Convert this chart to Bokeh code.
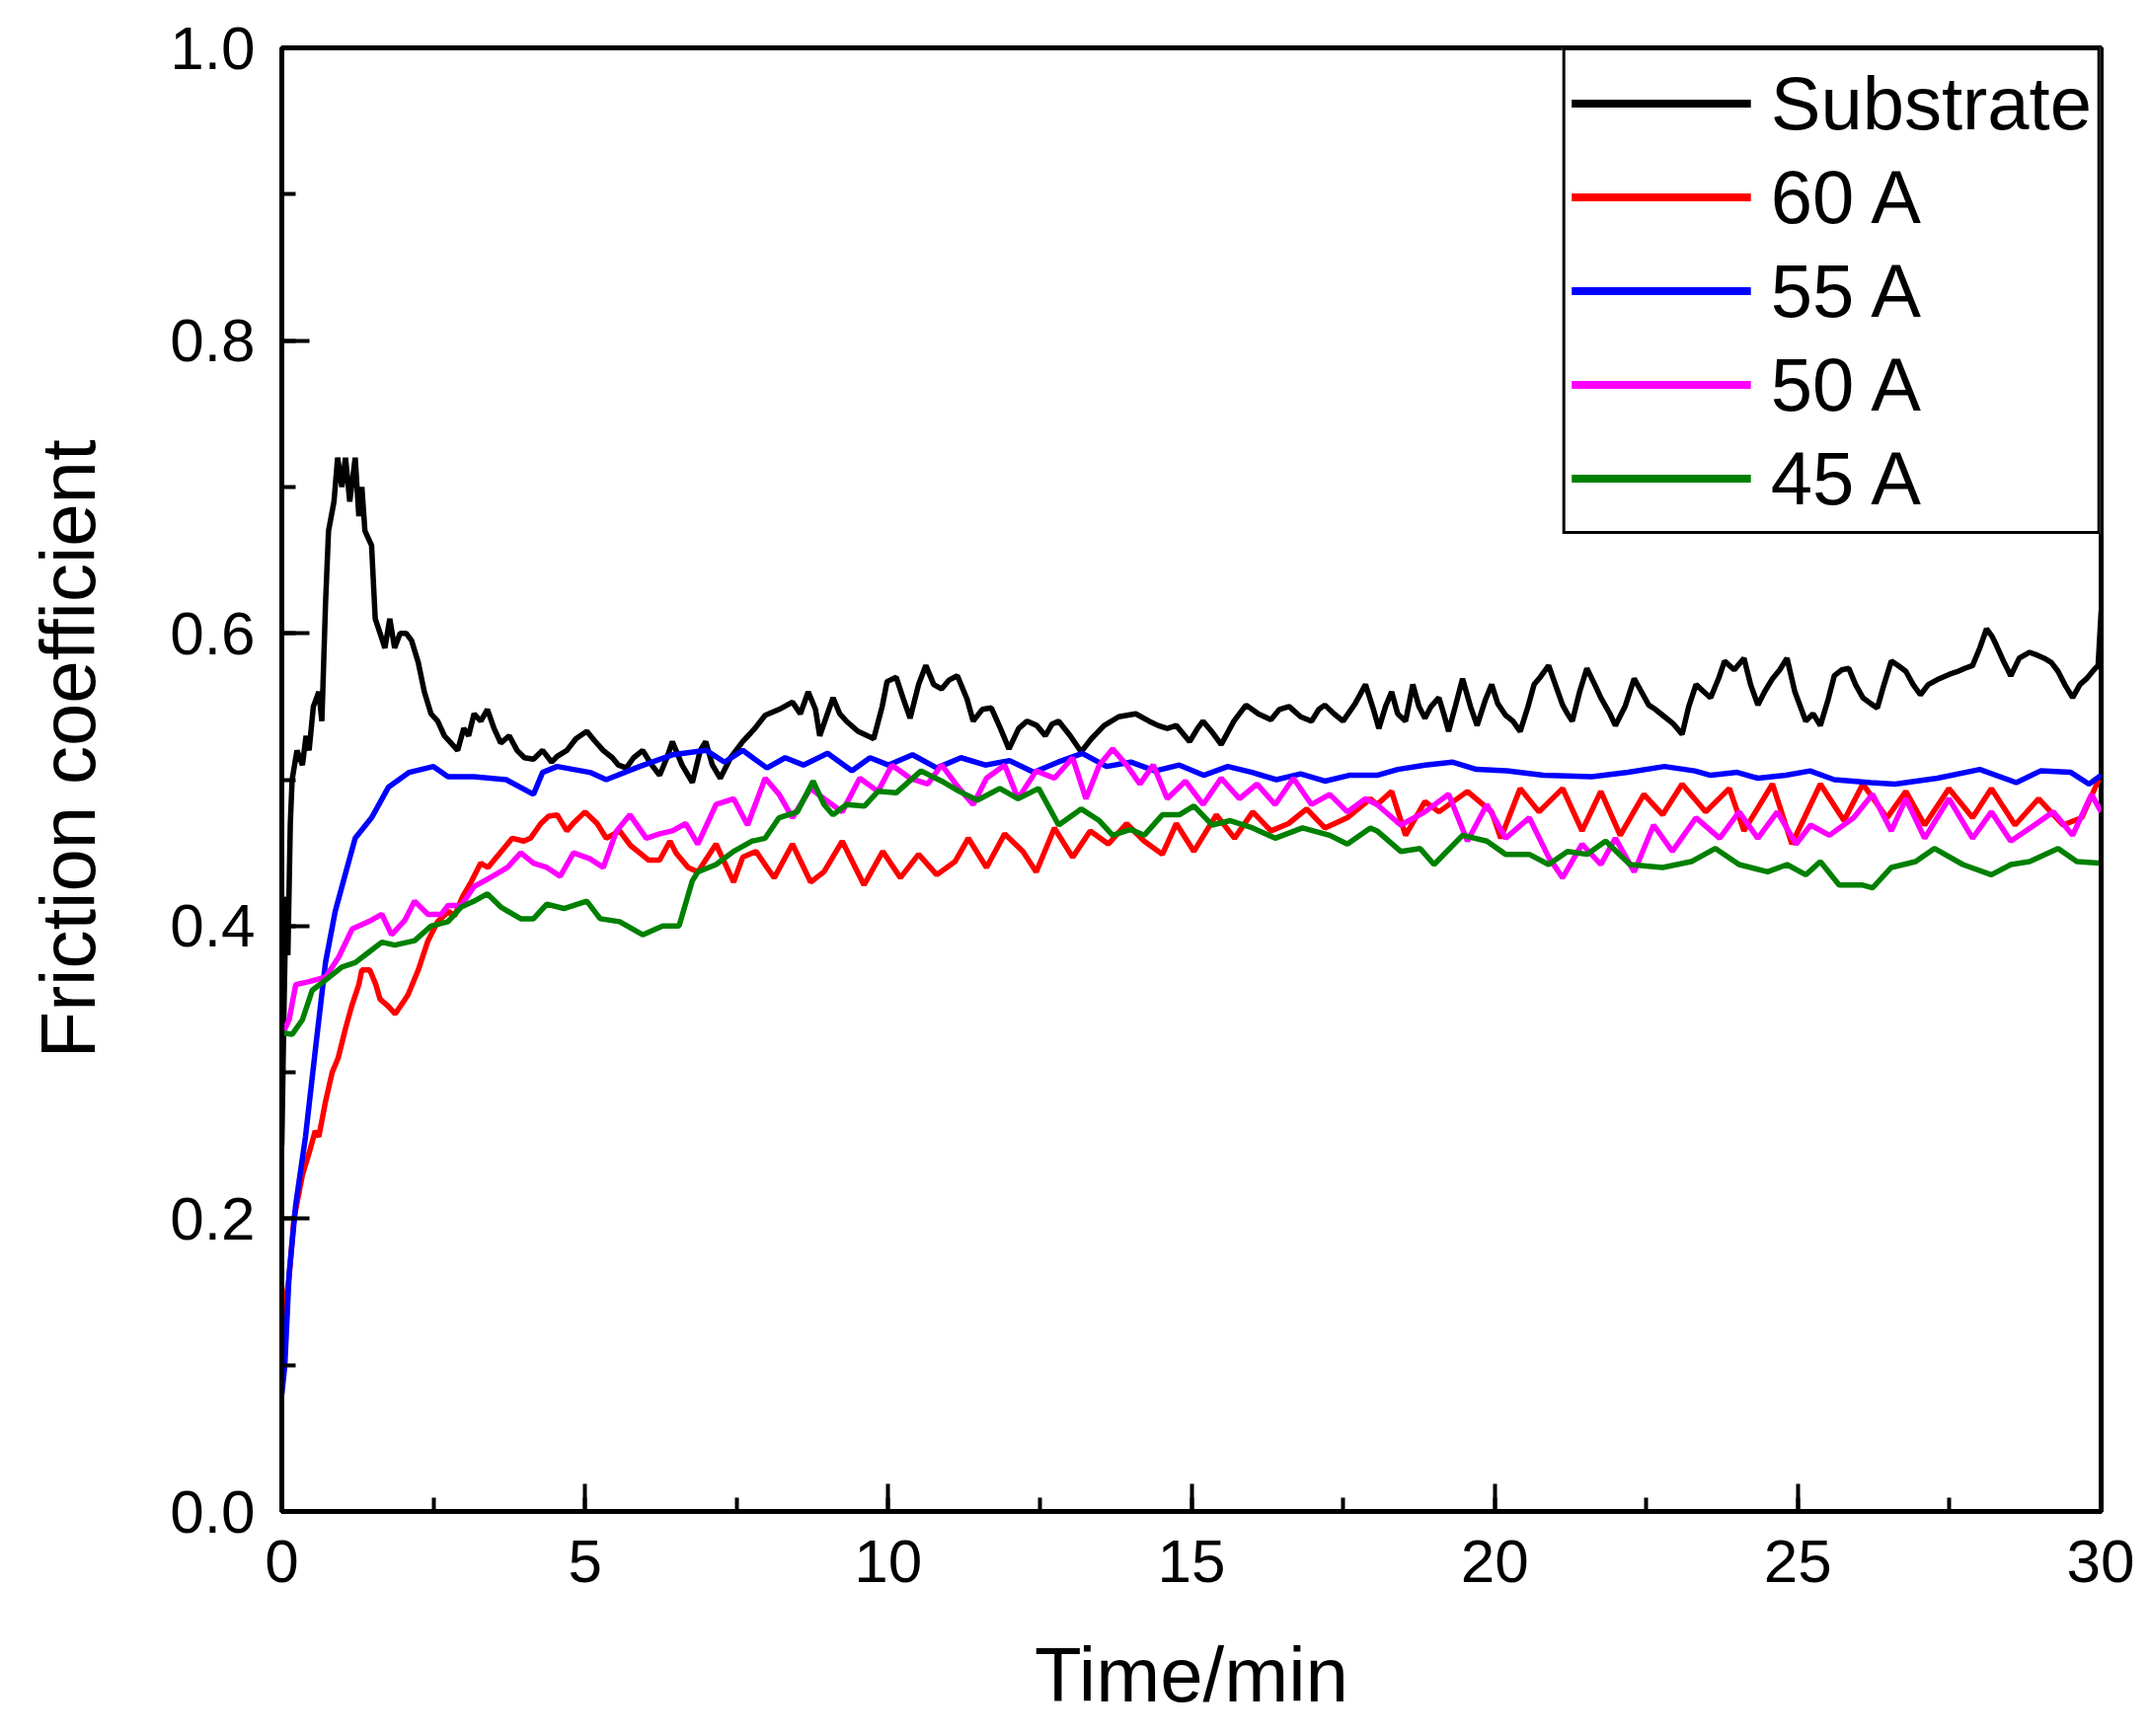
from bokeh.plotting import figure
from bokeh.models import (Range1d, SingleIntervalTicker, NumeralTickFormatter,
                          Legend, LegendItem, Title)
from bokeh.embed import file_html
from bokeh.resources import INLINE

# Friction coefficient vs time
sub_t = [0.0, 0.03, 0.07, 0.10, 0.14, 0.17, 0.25, 0.34, 0.40, 0.45, 0.52, 0.61, 0.66, 0.72, 0.77,
         0.86, 0.92, 0.99, 1.05, 1.12, 1.21, 1.27, 1.32, 1.37, 1.48, 1.54, 1.62, 1.70, 1.78, 1.86,
         1.95, 2.05, 2.14, 2.25, 2.35, 2.46, 2.57, 2.68, 2.79, 2.90, 3.0, 3.08, 3.17, 3.28, 3.39,
         3.50, 3.61, 3.75, 3.88, 4.0, 4.15, 4.30, 4.45, 4.54, 4.70, 4.85, 5.03, 5.15, 5.30, 5.45,
         5.55, 5.68, 5.80, 5.95, 6.1, 6.23, 6.35, 6.44, 6.6, 6.77, 6.9, 6.99, 7.1, 7.23, 7.4,
         7.6, 7.8, 7.97, 8.2, 8.42, 8.55, 8.68, 8.8, 8.87, 9.09, 9.2, 9.31, 9.5, 9.76, 9.9,
         9.98, 10.13, 10.25, 10.36, 10.5, 10.62, 10.75, 10.88, 11.0, 11.14, 11.3, 11.40, 11.55, 11.70, 11.85,
         11.99, 12.15, 12.29, 12.45, 12.59, 12.7, 12.81, 13.0, 13.18, 13.35, 13.56, 13.8, 14.08, 14.3, 14.45,
         14.6, 14.75, 14.97, 15.1, 15.19, 15.35, 15.49, 15.7, 15.90, 16.1, 16.31, 16.45, 16.61, 16.8, 16.98,
         17.1, 17.20, 17.35, 17.50, 17.7, 17.87, 18.0, 18.09, 18.2, 18.30, 18.4, 18.53, 18.65, 18.75, 18.85,
         18.95, 19.08, 19.16, 19.24, 19.35, 19.47, 19.6, 19.71, 19.85, 19.95, 20.05, 20.18, 20.3, 20.42, 20.55,
         20.65, 20.75, 20.89, 21.0, 21.12, 21.2, 21.28, 21.4, 21.52, 21.65, 21.75, 21.9, 21.99, 22.15, 22.30,
         22.42, 22.54, 22.65, 22.77, 22.95, 23.09, 23.2, 23.32, 23.45, 23.56, 23.7, 23.79, 23.95, 24.11, 24.22,
         24.34, 24.45, 24.58, 24.7, 24.82, 24.95, 25.13, 25.25, 25.37, 25.5, 25.60, 25.72, 25.84, 25.95, 26.07,
         26.2, 26.31, 26.42, 26.54, 26.65, 26.78, 26.9, 27.02, 27.15, 27.33, 27.5, 27.64, 27.75, 27.88, 28.0,
         28.11, 28.2, 28.27, 28.4, 28.51, 28.65, 28.82, 28.95, 29.06, 29.18, 29.29, 29.4, 29.53, 29.65, 29.76,
         29.88, 29.95, 30.0]
sub_v = [0.25, 0.33, 0.42, 0.38, 0.47, 0.50, 0.52, 0.51, 0.53, 0.52, 0.55, 0.56, 0.54, 0.62, 0.67,
         0.69, 0.72, 0.70, 0.72, 0.69, 0.72, 0.68, 0.70, 0.67, 0.66, 0.61, 0.60, 0.59, 0.61, 0.59,
         0.60, 0.60, 0.595, 0.58, 0.56, 0.545, 0.54, 0.53, 0.525, 0.52, 0.535, 0.53, 0.545, 0.54, 0.548,
         0.535, 0.525, 0.53, 0.52, 0.515, 0.514, 0.52, 0.512, 0.516, 0.52, 0.528, 0.533, 0.527, 0.52, 0.515,
         0.51, 0.508, 0.515, 0.52, 0.51, 0.503, 0.515, 0.526, 0.51, 0.498, 0.52, 0.526, 0.51, 0.501, 0.515,
         0.526, 0.535, 0.544, 0.548, 0.553, 0.545, 0.56, 0.548, 0.53, 0.556, 0.545, 0.54, 0.533, 0.528, 0.55,
         0.567, 0.57, 0.555, 0.542, 0.565, 0.578, 0.565, 0.562, 0.568, 0.571, 0.555, 0.54, 0.548, 0.549, 0.535,
         0.521, 0.535, 0.54, 0.537, 0.53, 0.538, 0.54, 0.53, 0.519, 0.528, 0.537, 0.543, 0.545, 0.54, 0.537,
         0.535, 0.537, 0.526, 0.535, 0.54, 0.532, 0.524, 0.54, 0.551, 0.545, 0.541, 0.548, 0.55, 0.543, 0.54,
         0.548, 0.551, 0.545, 0.54, 0.552, 0.565, 0.548, 0.535, 0.55, 0.56, 0.545, 0.54, 0.565, 0.55, 0.542,
         0.55, 0.556, 0.545, 0.533, 0.55, 0.569, 0.55, 0.537, 0.555, 0.565, 0.552, 0.544, 0.54, 0.533, 0.55,
         0.565, 0.57, 0.578, 0.565, 0.551, 0.545, 0.54, 0.56, 0.576, 0.565, 0.556, 0.545, 0.537, 0.55, 0.569,
         0.56, 0.551, 0.548, 0.544, 0.538, 0.531, 0.55, 0.565, 0.56, 0.556, 0.57, 0.581, 0.575, 0.583, 0.565,
         0.551, 0.56, 0.569, 0.575, 0.583, 0.56, 0.54, 0.545, 0.537, 0.555, 0.571, 0.575, 0.576, 0.565, 0.556,
         0.552, 0.549, 0.565, 0.581, 0.578, 0.574, 0.565, 0.558, 0.565, 0.569, 0.572, 0.574, 0.576, 0.578, 0.59,
         0.603, 0.598, 0.592, 0.58, 0.571, 0.583, 0.587, 0.585, 0.583, 0.58, 0.574, 0.565, 0.556, 0.565, 0.569,
         0.575, 0.578, 0.615]

a60_t = [0.0, 0.05, 0.12, 0.2, 0.27, 0.34, 0.45, 0.55, 0.61, 0.72, 0.83, 0.93, 1.05, 1.15, 1.27,
         1.32, 1.45, 1.55, 1.62, 1.76, 1.87, 2.0, 2.08, 2.25, 2.41, 2.57, 2.75, 2.85, 2.98, 3.12,
         3.28, 3.4, 3.5, 3.7, 3.8, 3.99, 4.1, 4.27, 4.4, 4.54, 4.7, 4.8, 5.0, 5.2, 5.35,
         5.57, 5.75, 5.9, 6.05, 6.23, 6.4, 6.5, 6.7, 6.86, 7.16, 7.45, 7.6, 7.82, 8.0, 8.12,
         8.42, 8.72, 8.94, 9.24, 9.6, 9.91, 10.2, 10.5, 10.8, 11.1, 11.32, 11.62, 11.92, 12.22, 12.44,
         12.74, 13.04, 13.33, 13.63, 13.93, 14.22, 14.52, 14.75, 15.04, 15.41, 15.71, 16.01, 16.31, 16.6, 16.9,
         17.2, 17.57, 17.95, 18.06, 18.3, 18.53, 18.85, 19.08, 19.55, 19.95, 20.1, 20.42, 20.73, 21.12, 21.44,
         21.75, 22.07, 22.46, 22.77, 23.09, 23.48, 23.87, 24.11, 24.58, 24.9, 25.37, 25.76, 26.07, 26.47, 26.78,
         27.09, 27.49, 27.88, 28.19, 28.58, 28.97, 29.37, 29.68, 29.96]
a60_v = [0.10, 0.14, 0.16, 0.2, 0.215, 0.23, 0.245, 0.26, 0.256, 0.28, 0.30, 0.31, 0.33, 0.345, 0.36,
         0.37, 0.37, 0.36, 0.35, 0.345, 0.34, 0.348, 0.353, 0.37, 0.39, 0.403, 0.41, 0.407, 0.42, 0.43,
         0.443, 0.44, 0.445, 0.455, 0.46, 0.458, 0.46, 0.47, 0.475, 0.476, 0.465, 0.47, 0.478, 0.47, 0.46,
         0.465, 0.455, 0.45, 0.445, 0.445, 0.458, 0.45, 0.44, 0.437, 0.456, 0.43, 0.447, 0.451, 0.44, 0.433,
         0.456, 0.43, 0.437, 0.458, 0.428, 0.451, 0.433, 0.449, 0.435, 0.444, 0.46, 0.44, 0.463, 0.451, 0.437,
         0.467, 0.447, 0.465, 0.456, 0.47, 0.458, 0.449, 0.47, 0.451, 0.476, 0.46, 0.478, 0.465, 0.47, 0.48,
         0.467, 0.474, 0.487, 0.483, 0.492, 0.462, 0.485, 0.478, 0.492, 0.478, 0.46, 0.494, 0.478, 0.494, 0.465,
         0.492, 0.462, 0.49, 0.476, 0.497, 0.478, 0.494, 0.465, 0.497, 0.456, 0.497, 0.472, 0.497, 0.474, 0.492,
         0.469, 0.494, 0.474, 0.494, 0.469, 0.487, 0.469, 0.474, 0.50]

a55_t = [0.0, 0.05, 0.12, 0.23, 0.39, 0.56, 0.72, 0.88, 1.05, 1.21, 1.48, 1.76, 2.1, 2.5, 2.74,
         3.17, 3.7, 4.15, 4.3, 4.54, 5.08, 5.35, 5.9, 6.44, 7.0, 7.3, 7.6, 8.0, 8.3, 8.6,
         9.0, 9.4, 9.7, 10.0, 10.4, 10.8, 11.2, 11.6, 12.0, 12.4, 12.8, 13.2, 13.6, 14.0, 14.4,
         14.8, 15.2, 15.6, 16.0, 16.4, 16.8, 17.2, 17.6, 18.06, 18.4, 18.85, 19.3, 19.7, 20.2, 20.8,
         21.6, 22.2, 22.8, 23.3, 23.56, 24.0, 24.34, 24.8, 25.2, 25.6, 26.2, 26.6, 27.3, 28.0, 28.6,
         29.0, 29.5, 29.8, 30.0]
a55_v = [0.08, 0.10, 0.162, 0.21, 0.256, 0.318, 0.375, 0.41, 0.436, 0.46, 0.474, 0.495, 0.505, 0.509, 0.502,
         0.502, 0.50, 0.49, 0.505, 0.509, 0.505, 0.50, 0.509, 0.517, 0.52, 0.512, 0.52, 0.508, 0.515, 0.51,
         0.518, 0.506, 0.515, 0.51, 0.517, 0.508, 0.515, 0.51, 0.513, 0.505, 0.512, 0.518, 0.509, 0.512, 0.506,
         0.51, 0.503, 0.509, 0.505, 0.50, 0.504, 0.499, 0.503, 0.503, 0.507, 0.51, 0.512, 0.507, 0.506, 0.503,
         0.502, 0.505, 0.509, 0.506, 0.503, 0.505, 0.501, 0.503, 0.506, 0.50, 0.498, 0.497, 0.501, 0.507, 0.498,
         0.506, 0.505, 0.497, 0.503]

a50_t = [0.0, 0.12, 0.23, 0.45, 0.72, 0.94, 1.16, 1.43, 1.65, 1.81, 2.03, 2.19, 2.41, 2.63, 2.74,
         2.96, 3.17, 3.39, 3.72, 3.94, 4.15, 4.37, 4.59, 4.81, 5.08, 5.30, 5.52, 5.74, 6.01, 6.23,
         6.44, 6.66, 6.86, 7.16, 7.45, 7.68, 7.97, 8.2, 8.42, 8.72, 8.94, 9.24, 9.53, 9.83, 10.06,
         10.36, 10.65, 10.88, 11.17, 11.4, 11.62, 11.92, 12.14, 12.44, 12.74, 13.04, 13.26, 13.48, 13.7, 13.93,
         14.15, 14.37, 14.6, 14.9, 15.19, 15.49, 15.79, 16.08, 16.38, 16.68, 16.98, 17.28, 17.57, 17.87, 18.06,
         18.45, 18.85, 19.24, 19.55, 19.87, 20.18, 20.57, 20.89, 21.12, 21.44, 21.75, 21.99, 22.3, 22.62, 22.93,
         23.32, 23.71, 24.03, 24.34, 24.66, 24.97, 25.21, 25.52, 25.92, 26.23, 26.54, 26.78, 27.09, 27.49, 27.88,
         28.19, 28.51, 28.9, 29.21, 29.53, 29.84, 30.0]
a50_v = [0.325, 0.336, 0.36, 0.362, 0.365, 0.379, 0.398, 0.403, 0.408, 0.394, 0.404, 0.417, 0.408, 0.408, 0.414,
         0.414, 0.427, 0.432, 0.44, 0.45, 0.443, 0.44, 0.434, 0.45, 0.446, 0.44, 0.465, 0.476, 0.46, 0.463,
         0.465, 0.47, 0.456, 0.483, 0.487, 0.469, 0.501, 0.49, 0.474, 0.494, 0.487, 0.478, 0.501, 0.492, 0.51,
         0.501, 0.497, 0.51, 0.494, 0.483, 0.501, 0.51, 0.487, 0.506, 0.501, 0.515, 0.487, 0.51, 0.521, 0.51,
         0.497, 0.51, 0.487, 0.499, 0.483, 0.501, 0.487, 0.497, 0.483, 0.501, 0.483, 0.49, 0.478, 0.487, 0.483,
         0.469, 0.478, 0.49, 0.458, 0.483, 0.46, 0.474, 0.447, 0.433, 0.456, 0.442, 0.46, 0.437, 0.469, 0.451,
         0.474, 0.46, 0.478, 0.46, 0.478, 0.456, 0.469, 0.462, 0.474, 0.49, 0.465, 0.487, 0.46, 0.487, 0.46,
         0.478, 0.458, 0.469, 0.478, 0.462, 0.49, 0.478]

a45_t = [0.0, 0.17, 0.34, 0.50, 0.72, 0.99, 1.21, 1.43, 1.65, 1.86, 2.19, 2.46, 2.74, 2.96, 3.17,
         3.39, 3.61, 3.94, 4.15, 4.37, 4.65, 5.03, 5.25, 5.57, 5.95, 6.28, 6.55, 6.77, 6.86, 7.16,
         7.45, 7.75, 7.97, 8.2, 8.5, 8.76, 8.94, 9.09, 9.31, 9.61, 9.83, 10.13, 10.54, 10.88, 11.17,
         11.47, 11.84, 12.14, 12.48, 12.81, 13.18, 13.48, 13.70, 14.0, 14.22, 14.52, 14.8, 15.04, 15.34, 15.64,
         16.01, 16.38, 16.83, 17.28, 17.57, 17.95, 18.06, 18.45, 18.77, 19.0, 19.47, 19.87, 20.18, 20.57, 20.89,
         21.2, 21.52, 21.83, 22.23, 22.77, 23.24, 23.64, 24.03, 24.5, 24.82, 25.13, 25.37, 25.68, 26.07, 26.23,
         26.54, 26.94, 27.25, 27.72, 28.19, 28.51, 28.82, 29.29, 29.6, 29.96]
a45_v = [0.327, 0.326, 0.336, 0.356, 0.363, 0.372, 0.375, 0.382, 0.389, 0.387, 0.39, 0.40, 0.403, 0.413, 0.417,
         0.422, 0.413, 0.405, 0.405, 0.415, 0.412, 0.417, 0.405, 0.403, 0.394, 0.40, 0.40, 0.431, 0.437, 0.442,
         0.451, 0.458, 0.46, 0.474, 0.478, 0.499, 0.483, 0.476, 0.483, 0.482, 0.492, 0.491, 0.506, 0.499, 0.492,
         0.486, 0.494, 0.487, 0.494, 0.469, 0.48, 0.472, 0.462, 0.466, 0.462, 0.476, 0.476, 0.482, 0.469, 0.472,
         0.467, 0.46, 0.467, 0.462, 0.456, 0.467, 0.465, 0.451, 0.453, 0.442, 0.462, 0.458, 0.449, 0.449, 0.442,
         0.451, 0.449, 0.458, 0.442, 0.44, 0.444, 0.453, 0.442, 0.437, 0.442, 0.435, 0.444, 0.428, 0.428, 0.426,
         0.44, 0.444, 0.453, 0.442, 0.435, 0.442, 0.444, 0.453, 0.444, 0.443]

series = [
    ("Substrate", sub_t, sub_v, "#000000"),
    ("60 A", a60_t, a60_v, "#ff0000"),
    ("55 A", a55_t, a55_v, "#0000ff"),
    ("50 A", a50_t, a50_v, "#ff00ff"),
    ("45 A", a45_t, a45_v, "#008000"),
]

FONT = "Liberation Sans"

p = figure(width=2162, height=1743, output_backend="svg", toolbar_location=None,
           x_range=Range1d(0, 30), y_range=Range1d(0, 1.0),
           min_border_left=285, min_border_right=34, min_border_top=48, min_border_bottom=211)
p.background_fill_color = "white"
p.border_fill_color = "white"
p.xgrid.grid_line_color = None
p.ygrid.grid_line_color = None
p.outline_line_color = "black"
p.outline_line_width = 5
p.outline_line_alpha = 1.0

# Lines (legend uses off-screen copies so the legend strokes can be a bit heavier)
items = []
for name, t, v, col in series:
    p.line(t, v, line_color=col, line_width=5.5)
    dummy = p.line([-10, -9], [-1, -1], line_color=col, line_width=8)
    items.append(LegendItem(label=name, renderers=[dummy]))

# Axes
p.xaxis.ticker = SingleIntervalTicker(interval=5, num_minor_ticks=2)
p.yaxis.ticker = SingleIntervalTicker(interval=0.2, num_minor_ticks=2)
p.yaxis.formatter = NumeralTickFormatter(format="0.0")
for ax in (p.xaxis[0], p.yaxis[0]):
    ax.axis_line_width = 5
    ax.axis_line_color = "black"
    ax.major_tick_in = 28
    ax.major_tick_out = 0
    ax.minor_tick_in = 14
    ax.minor_tick_out = 0
    ax.major_tick_line_width = 4
    ax.minor_tick_line_width = 4
    ax.major_label_text_font = FONT
    ax.major_label_text_font_size = "62px"
    ax.major_label_text_color = "black"
    ax.axis_label_text_font = FONT
    ax.axis_label_text_font_style = "normal"
    ax.axis_label_text_color = "black"
p.xaxis.major_label_standoff = 29
p.yaxis.major_label_standoff = 27

p.xaxis.axis_label = "Time/min"
p.xaxis.axis_label_text_font_size = "78px"
p.xaxis.axis_label_standoff = 47

# y title sits a little above the middle of the axis, so it is a Title with an offset;
# a blank axis label keeps the gap between it and the tick labels
p.yaxis.axis_label = " "
p.yaxis.axis_label_text_font_size = "12px"
p.yaxis.axis_label_standoff = 40
p.add_layout(Title(text="Friction coefficient", align="left", offset=459,
                   vertical_align="bottom", standoff=0, text_font=FONT,
                   text_font_size="78px", text_font_style="normal",
                   text_color="black"), "left")

# Legend
legend = Legend(items=items, location="top_right", margin=0, padding=6, spacing=0,
                glyph_width=182, glyph_height=95, label_height=95, label_standoff=20,
                label_text_font=FONT, label_text_font_size="76px", label_text_color="black",
                border_line_color="black", border_line_width=3, border_line_alpha=1.0,
                background_fill_color="white", background_fill_alpha=1.0)
p.add_layout(legend)

open("out.html", "w").write(file_html(p, INLINE))
